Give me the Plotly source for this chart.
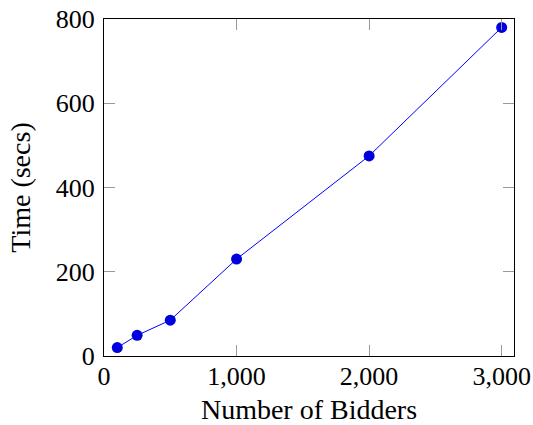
import plotly.graph_objects as go

bidders = [100, 250, 500, 1000, 2000, 3000]
time_secs = [20, 49, 85, 230, 475, 780]
x_ticks = [0, 1000, 2000, 3000]
x_tick_labels = ["0", "1,000", "2,000", "3,000"]
y_ticks = [0, 200, 400, 600, 800]

fig = go.Figure()
fig.add_trace(go.Scatter(
    x=bidders, y=time_secs, mode="lines+markers",
    line=dict(color="#0000ff", width=1),
    marker=dict(color="#0000dd", size=11, line=dict(width=0)),
    showlegend=False, cliponaxis=False,
))

family = "Liberation Serif, DejaVu Serif, serif"
tick_font = dict(family=family, size=26, color="black")
title_font = dict(family=family, size=28, color="black")

fig.update_layout(
    width=533, height=425,
    margin=dict(l=104, r=19, t=19, b=69),
    paper_bgcolor="white", plot_bgcolor="white",
    font=dict(family=family, color="black"),
    xaxis=dict(
        range=[0, 3093], tickvals=x_ticks, ticktext=x_tick_labels,
        showgrid=False, zeroline=False, automargin=False,
        showline=True, linecolor="black", linewidth=1, mirror="ticks",
        ticks="inside", ticklen=11, tickcolor="#999999", tickwidth=1,
        tickfont=tick_font, ticklabelstandoff=-3, ticklabeloverflow="allow",
        title=dict(text="Number of Bidders", font=title_font, standoff=22),
    ),
    yaxis=dict(
        range=[0, 800], tickvals=y_ticks,
        showgrid=False, zeroline=False, automargin=False,
        showline=True, linecolor="black", linewidth=1, mirror="ticks",
        ticks="inside", ticklen=11, tickcolor="#999999", tickwidth=1,
        tickfont=tick_font, ticklabelstandoff=3, ticklabeloverflow="allow",
        title=dict(text="Time (secs)", font=title_font, standoff=16),
    ),
)

fig.write_html(
    "out.html",
    config={"displayModeBar": False},
    post_script="document.body.style.margin='0';document.body.style.overflow='hidden';",
)
